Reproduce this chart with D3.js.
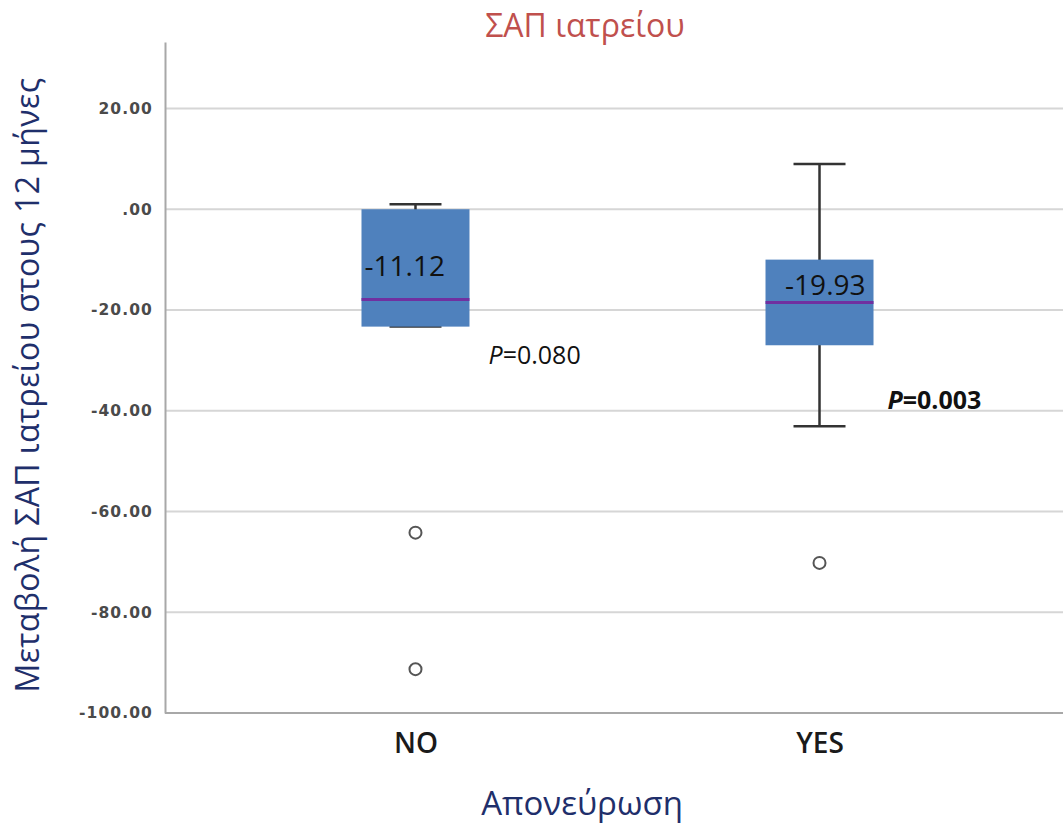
<!DOCTYPE html>
<html>
<head>
<meta charset="utf-8">
<script src="https://cdn.jsdelivr.net/npm/d3@7"></script>
<style>
  body { margin: 0; background: #fff; }
  svg { display: block; }
</style>
</head>
<body>
<div id="wrapper"></div>
<script>
// data
const groups = ["NO", "YES"]
const whiskerHigh = [1.0, 9.0]
const q3 = [0.0, -10.0]
const median = [-17.9, -18.5]
const q1 = [-23.3, -27.0]
const whiskerLow = [-23.3, -43.1]
const outliers = [
  { group: "NO", value: -64.2 },
  { group: "NO", value: -91.3 },
  { group: "YES", value: -70.2 },
]
const meanLabels = ["-11.12", "-19.93"]
const meanValues = [-11.12, -19.93]
const pValues = ["0.080", "0.003"]
const pLevels = [-30.8, -39.6]
const yTicks = [20, 0, -20, -40, -60, -80, -100]

const boxes = groups.map((g, i) => ({
  group: g,
  hi: whiskerHigh[i], q3: q3[i], med: median[i], q1: q1[i], lo: whiskerLow[i],
  label: meanLabels[i], mean: meanValues[i], p: pValues[i], pLevel: pLevels[i],
}))

function drawBoxPlot() {
  const dimensions = {
    width: 1063,
    height: 827,
    margins: { top: 42, right: 0, bottom: 114, left: 165 },
  }
  dimensions.boundedWidth = dimensions.width - dimensions.margins.left - dimensions.margins.right
  dimensions.boundedHeight = dimensions.height - dimensions.margins.top - dimensions.margins.bottom

  const wrapper = d3.select("#wrapper")
    .append("svg")
      .attr("width", dimensions.width)
      .attr("height", dimensions.height)

  const bounds = wrapper.append("g")
    .attr("transform", `translate(${dimensions.margins.left},${dimensions.margins.top})`)

  // scales
  const yScale = d3.scaleLinear()
    .domain([-100, 33.2])
    .range([dimensions.boundedHeight, 0])

  const xScale = d3.scalePoint()
    .domain(groups)
    .range([0, dimensions.boundedWidth + 7])
    .padding(0.62)

  const boxWidth = 108
  const capWidth = 52

  // gridlines
  bounds.append("g")
    .selectAll("line")
    .data(yTicks.filter(t => t !== -100))
    .join("line")
      .attr("x1", 0)
      .attr("x2", dimensions.boundedWidth)
      .attr("y1", d => yScale(d))
      .attr("y2", d => yScale(d))
      .attr("stroke", "#d6d6d6")
      .attr("stroke-width", 2)

  // y axis
  const yAxisGenerator = d3.axisLeft(yScale)
    .tickValues(yTicks)
    .tickSize(0)
    .tickPadding(12)
    .tickFormat(d => d === 0 ? ".00" : d3.format(".2f")(d).replace("−", "-"))

  const yAxis = bounds.append("g").call(yAxisGenerator)
  yAxis.select(".domain")
    .attr("stroke", "#a8a8a8")
    .attr("stroke-width", 2)
  yAxis.selectAll("text")
    .attr("fill", "#4a4a4a")
    .style("font-family", "DejaVu Sans")
    .style("font-weight", "bold")
    .style("font-size", "15.5px")
    .style("letter-spacing", "1.1px")

  // x axis
  const xAxisGenerator = d3.axisBottom(xScale)
    .tickSize(0)
    .tickPadding(20)

  const xAxis = bounds.append("g")
    .attr("transform", `translate(0,${dimensions.boundedHeight})`)
    .call(xAxisGenerator)
  xAxis.select(".domain").remove()
  xAxis.append("line")
    .attr("x1", 0)
    .attr("x2", dimensions.boundedWidth)
    .attr("stroke", "#a8a8a8")
    .attr("stroke-width", 2)
  xAxis.selectAll(".tick text")
    .attr("fill", "#1a1a1a")
    .style("font-family", "Open Sans")
    .style("font-weight", 600)
    .style("font-size", "28px")

  // boxes
  const box = bounds.selectAll(".box")
    .data(boxes)
    .join("g")
      .attr("class", "box")
      .attr("transform", d => `translate(${xScale(d.group)},0)`)

  // whiskers
  box.append("line")
    .attr("y1", d => yScale(d.hi))
    .attr("y2", d => yScale(d.lo))
    .attr("stroke", "#333")
    .attr("stroke-width", 2.5)
  box.selectAll(".cap")
    .data(d => [d.hi, d.lo])
    .join("line")
      .attr("class", "cap")
      .attr("x1", -capWidth / 2)
      .attr("x2", capWidth / 2)
      .attr("y1", d => yScale(d))
      .attr("y2", d => yScale(d))
      .attr("stroke", "#333")
      .attr("stroke-width", 2.5)

  box.append("rect")
    .attr("x", -boxWidth / 2)
    .attr("width", boxWidth)
    .attr("y", d => yScale(d.q3))
    .attr("height", d => yScale(d.q1) - yScale(d.q3))
    .attr("fill", "#4f81bd")

  box.append("line")
    .attr("x1", -boxWidth / 2)
    .attr("x2", boxWidth / 2)
    .attr("y1", d => yScale(d.med))
    .attr("y2", d => yScale(d.med))
    .attr("stroke", "#7030a0")
    .attr("stroke-width", 3)

  // value labels inside boxes
  box.append("text")
    .attr("x", (d, i) => i === 0 ? -boxWidth / 2 + 3 : boxWidth / 2 - 8)
    .attr("y", (d, i) => i === 0 ? yScale(d.mean) + 11 : yScale(d.med) - 7)
    .attr("text-anchor", (d, i) => i === 0 ? "start" : "end")
    .attr("fill", "#111")
    .style("font-family", "Open Sans")
    .style("font-size", "28px")
    .text(d => d.label)

  // p values
  const pText = box.append("text")
    .attr("x", (d, i) => boxWidth / 2 + (i === 0 ? 19 : 14))
    .attr("y", d => yScale(d.pLevel))
    .attr("fill", "#111")
    .style("font-family", "Open Sans")
    .style("font-size", "25px")
    .style("font-weight", (d, i) => i === 1 ? "bold" : "normal")
  pText.append("tspan")
    .style("font-style", "italic")
    .text("P")
  pText.append("tspan")
    .text(d => "=" + d.p)

  // outliers
  bounds.selectAll(".outlier")
    .data(outliers)
    .join("circle")
      .attr("class", "outlier")
      .attr("cx", d => xScale(d.group))
      .attr("cy", d => yScale(d.value))
      .attr("r", 6)
      .attr("fill", "none")
      .attr("stroke", "#555")
      .attr("stroke-width", 2)

  // titles
  wrapper.append("text")
    .attr("x", 585)
    .attr("y", 37)
    .attr("text-anchor", "middle")
    .attr("fill", "#c0504d")
    .style("font-family", "Open Sans")
    .style("font-size", "32px")
    .text("ΣΑΠ ιατρείου")

  wrapper.append("text")
    .attr("x", 582)
    .attr("y", 815)
    .attr("text-anchor", "middle")
    .attr("fill", "#1f2f6b")
    .style("font-family", "Open Sans")
    .style("font-size", "33px")
    .text("Απονεύρωση")

  wrapper.append("text")
    .attr("transform", "translate(39,385) rotate(-90)")
    .attr("text-anchor", "middle")
    .attr("fill", "#1f2f6b")
    .style("font-family", "Open Sans")
    .style("font-size", "32px")
    .style("letter-spacing", "0.4px")
    .text("Μεταβολή ΣΑΠ ιατρείου στους 12 μήνες")
}

drawBoxPlot()
</script>
</body>
</html>
